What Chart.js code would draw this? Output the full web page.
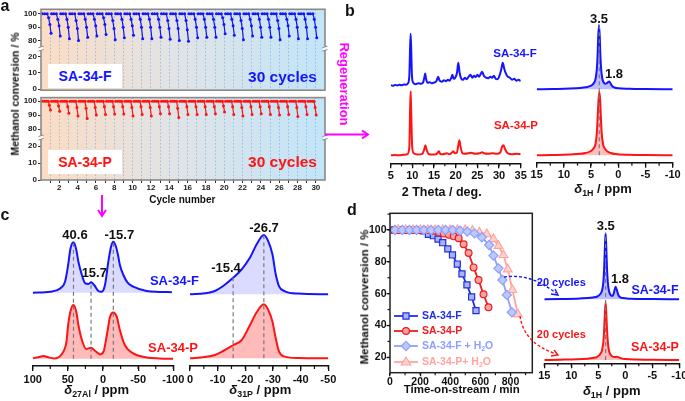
<!DOCTYPE html>
<html>
<head>
<meta charset="utf-8">
<script src="https://cdn.jsdelivr.net/npm/chart.js"></script>
<style>
  body { margin: 0; background: #fff; }
  #wrap { position: relative; width: 685px; height: 401px; overflow: hidden; font-family: 'Liberation Sans', Arial, sans-serif; font-weight: bold; }
  #wrap canvas { position: absolute; }
  .t { position: absolute; white-space: nowrap; transform: translate(-50%, -50%); line-height: 1; }
  .t sub { font-size: 0.68em; vertical-align: -0.25em; }
  svg { position: absolute; left: 0; top: 0; }
</style>
</head>
<body>
<div id="wrap"></div>
<script>
// ---------- data ----------
const cycles = [1,2,3,4,5,6,7,8,9,10,11,12,13,14,15,16,17,18,19,20,21,22,23,24,25,26,27,28,29,30];
const yTicksA = [0, 10, 20, 80, 90, 100];

// SA-34-F, per cycle: two points on the way down and the last point
const fDrop1 = [97,96,96,95,96,96,97,95,96,96,96,96,96,95,95,95,96,96,96,97,96,95,96,96,96,95,96,96,96,96];
const fDrop2 = [92,91,90,89,90,91,92,89,90,91,90,90,90,89,89,88,90,90,90,92,91,89,91,90,90,89,91,90,90,90];
const fEnd = [85.4,83.3,81.4,80,82.4,83.3,84.5,80.5,82,84,81.4,81.4,82.4,81,80,79.5,82,82.4,82.4,85,84,80.5,83.3,82.4,82.4,80.5,83.3,81.4,81.4,82];
// SA-34-P
const pDrop = [97,96.5,96,95.5,95,95.5,96,96,96,95.5,96,95.5,96,96,95,96,96,96,96,96.5,96,95.5,96,96,96,95.5,96,95.5,96,95.5];
const pEnd = [93.6,92.7,91.3,89.4,87.5,90,90.5,90.8,90.8,89.4,90.5,89.4,91,91,88.2,90.5,90.5,90.5,91,92.2,90.5,89.4,90.5,91,90.5,90,90.5,89,90.5,90];

// XRD (2 theta, intensity)
const xrdF = [[5,0.5],[5.5,0],[6,0.8],[6.5,0.3],[7,1],[7.5,0.4],[8,1.2],[8.5,1],[9,2.5],[9.3,10],[9.45,34],[9.6,52],[9.75,34],[9.9,10],[10.2,3],[10.8,1.5],[11.4,2.5],[12,2],[12.5,3.5],[12.8,9],[12.95,12.3],[13.15,7],[13.5,3],[14,3.5],[14.5,2.5],[15,3],[15.6,5],[15.95,9],[16.3,5],[16.8,4],[17.3,5.5],[17.8,4.5],[18.2,6],[18.6,5],[19,8],[19.25,11],[19.5,7],[19.9,8],[20.3,13],[20.6,23],[20.9,13],[21.3,7],[21.7,6],[22.1,8],[22.5,6.5],[23,9],[23.4,11],[23.8,8],[24.2,10],[24.6,8.5],[25,11],[25.4,9],[25.8,12],[26.1,14],[26.5,10],[27,8],[27.5,7.5],[28,9],[28.4,8],[28.8,10],[29.2,7],[29.7,6.5],[30.1,10],[30.5,16],[30.85,23],[31.2,17],[31.6,12],[32,9],[32.5,8],[33,6],[33.5,7],[34,5],[34.5,6],[35,4.5]];
const xrdP = [[5,0],[6,0.3],[7,0],[8,0.5],[8.8,1],[9.3,8],[9.45,40],[9.6,64],[9.75,40],[9.95,9],[10.3,2],[11.2,0.8],[12.3,1.5],[12.75,6],[13,10],[13.25,6],[13.7,1.5],[14.5,0.8],[15.5,1],[15.9,3],[16.15,4],[16.4,1.5],[17,1],[18,2],[18.5,1],[19.2,3],[19.45,4],[19.8,2],[20.3,3],[20.6,10],[20.85,15],[21.1,9],[21.5,2.5],[22,1.5],[23,2],[23.5,2.5],[24.5,1.5],[25.5,2],[26.1,3],[26.5,2],[27.5,1.5],[28.5,2],[29.5,1.5],[30.3,3],[30.75,9],[31.05,10],[31.4,6],[32,2],[33,1],[34,1.5],[35,1]];

// 1H NMR, panel b (ppm, intensity)
const hbF = [[15,0],[12,0.3],[9,0.7],[7,1.3],[6,2],[5.2,3.2],[4.6,5.5],[4.2,10],[3.95,20],[3.8,35],[3.7,52],[3.55,64.3],[3.4,52],[3.3,35],[3.15,20],[2.95,11],[2.7,7],[2.4,5.5],[2.1,6],[1.85,7.5],[1.65,7.7],[1.4,5.5],[1.1,3],[0.7,1.8],[0,1],[-2,0.5],[-5,0.2],[-10,0]];
const hbP = [[15,0],[12,0.3],[9,0.8],[7,1.5],[6,2.3],[5.2,3.8],[4.6,6.5],[4.2,11],[3.95,22],[3.8,38],[3.65,54],[3.48,63.6],[3.32,54],[3.2,38],[3.05,22],[2.8,11],[2.45,6.5],[2,3.8],[1.4,2.3],[0.5,1.2],[-2,0.5],[-5,0.2],[-10,0]];

// 27Al NMR
const alF = [[100,0],[75,1],[61,4.3],[54,11],[49.6,27.7],[46.3,44],[42,50.4],[38.3,44],[35,31],[30,17.7],[25.3,9.3],[20.6,8.7],[17,10.4],[12.6,7.7],[6.5,1.7],[1.9,1],[-2.8,7.7],[-7.6,31],[-11.4,46],[-14.7,51],[-18.5,46],[-21.8,36],[-24,27.7],[-29,17.7],[-35,10],[-43,6],[-62,1.7],[-80,0.8],[-98,0.5]];
const alP = [[100,0.5],[92,1.5],[84.6,2.7],[78,1.5],[70,0.3],[58,5.3],[52,17],[49.6,33.7],[45.8,48.7],[42,53.7],[38,47],[35,33.7],[30,18.7],[24,9.7],[17,11],[11,7.7],[4,4.3],[-0.7,7],[-5.5,23.7],[-10,42],[-14.7,46.3],[-19.5,42],[-24,28.7],[-31,13.7],[-43,5.3],[-62,1.3],[-80,0.3],[-100,0]];

// 31P NMR
const phF = [[0,0],[-5.4,1],[-9,3.3],[-12,8.3],[-15.7,16.7],[-18.7,25],[-21.7,36.7],[-24.1,50],[-26.7,59.3],[-28.3,53],[-29.8,40],[-31,20],[-32.2,8],[-34.3,3],[-39.2,0.7],[-50,0]];
const phP = [[0,0],[-5.4,1.3],[-9,3.3],[-12,7.3],[-15.7,13.3],[-18.7,18.3],[-21.7,33.3],[-24.1,46],[-26.7,54],[-28.3,48.3],[-29.8,36.7],[-31,20],[-32.2,6.7],[-34.3,1.7],[-39.2,0.3],[-50,0]];

// 1H NMR after 20 cycles, panel d
const hdF = [[15,0],[12,0.3],[9,0.6],[7,1.2],[6,1.8],[5.2,2.8],[4.7,4.8],[4.3,9],[4.05,18],[3.9,33],[3.78,52],[3.65,66],[3.52,52],[3.4,33],[3.25,18],[3.05,9],[2.75,4.5],[2.45,3.2],[2.2,5],[2,9],[1.8,12.6],[1.55,9],[1.3,4.5],[1,2.2],[0.5,1.2],[-1,0.6],[-5,0.2],[-10,0]];
const hdP = [[15,0],[12,0.3],[9,0.7],[7,1.3],[6,2],[5.2,3.2],[4.7,5.5],[4.3,10],[4.05,19],[3.9,32],[3.78,47],[3.65,57.3],[3.52,47],[3.4,32],[3.25,19],[3.05,10],[2.75,5.5],[2.4,3.5],[2,3],[1.6,3.2],[1.2,2.6],[0.7,1.6],[0,0.9],[-2,0.4],[-5,0.2],[-10,0]];

// methanol conversion vs time on stream
const timeF = [30,62,94,126,158,190,222,255,288,319,350,384,415,447,478,511,542,571];
const convF = [100,100,100,100,100,99.8,99.5,97.3,96.4,94.3,92,88.1,84.3,78.6,72.4,65.5,57.9,49.3];
const timeP = [27,60,93,126,159,192,225,258,291,324,357,390,423,456,489,522,555,588,621,654];
const convP = [100,100,100,100,100,100,100,100,99.5,98.5,97.8,97,96,94.8,91,85.5,76.5,68.5,59.6,51.4];
const timeFW = [33,81,129,177,225,273,321,369,417,465,513,561,610,658,687,720,747,776,809];
const convFW = [100,100,100,100,100,100,100,100,100,99.5,99,97.9,95.4,90.6,83.9,75.9,68.6,59.2,48.3];
const timePW = [55,104,153,202,251,300,350,399,448,499,548,594,643,687,720,753,782,813,849];
const convPW = [100,100,100,100,100,100,100,100,100,100,99.5,98.5,97.5,94.3,90,84.3,75.3,62.3,47];

// ---------- helpers ----------
Chart.defaults.font.family = "'Liberation Sans', Arial, sans-serif";
Chart.defaults.font.weight = 'bold';
Chart.defaults.color = '#111';

const BLUE = '#1414ff';
const RED = '#ff1414';
const wrap = document.getElementById('wrap');

function place(left, top, w, h) {
  const c = document.createElement('canvas');
  c.width = w; c.height = h;
  c.style.left = left + 'px'; c.style.top = top + 'px';
  wrap.appendChild(c);
  return c;
}

function label(html, x, y, size, color, extra) {
  const d = document.createElement('div');
  d.className = 't';
  d.innerHTML = html;
  d.style.left = x + 'px'; d.style.top = y + 'px';
  d.style.fontSize = size + 'px';
  d.style.color = color || '#111';
  if (extra) Object.assign(d.style, extra);
  wrap.appendChild(d);
}

const minorTicks = {
  id: 'minorTicks',
  afterDraw(chart, args, opts) {
    const ctx = chart.ctx;
    ctx.save();
    ctx.strokeStyle = '#111';
    ctx.lineWidth = 1.2;
    ['x', 'y'].forEach(id => {
      const o = opts[id];
      if (!o) return;
      const s = chart.scales[id];
      for (let v = o.from; v <= o.to + 1e-9; v += o.step) {
        const p = s.getPixelForValue(v);
        ctx.beginPath();
        if (id === 'x') { ctx.moveTo(p, s.top); ctx.lineTo(p, s.top + o.len); }
        else { ctx.moveTo(s.right, p); ctx.lineTo(s.right - o.len, p); }
        ctx.stroke();
      }
    });
    ctx.restore();
  }
};

// broken axis of panel a: 0-20 and 80-100
function brk(v) { return v === null ? null : (v <= 20 ? v : 30 + (v - 80) * 0.82); }

const aBackground = {
  id: 'aBackground',
  beforeDraw(chart) {
    const { ctx, chartArea: a } = chart;
    const g = ctx.createLinearGradient(a.left, 0, a.right, 0);
    g.addColorStop(0, '#fbdcc3');
    g.addColorStop(0.45, '#e2e3e4');
    g.addColorStop(1, '#c2e5f9');
    ctx.fillStyle = g;
    ctx.fillRect(a.left, a.top, a.width, a.height);
  },
  afterDraw(chart) {
    const { ctx, chartArea: a } = chart;
    ctx.save();
    ctx.strokeStyle = '#8a8a8a';
    ctx.lineWidth = 1.6;
    ctx.strokeRect(a.left, a.top, a.width, a.height);
    const yb = chart.scales.y.getPixelForValue(25);
    [a.left, a.right].forEach(x => {
      ctx.fillStyle = '#fff';
      ctx.fillRect(x - 2, yb - 2, 4, 4);
      ctx.strokeStyle = '#777';
      ctx.lineWidth = 0.9;
      ctx.beginPath();
      ctx.moveTo(x - 2.5, yb - 1); ctx.lineTo(x + 2.5, yb - 2.5);
      ctx.moveTo(x - 2.5, yb + 2.5); ctx.lineTo(x + 2.5, yb + 1);
      ctx.stroke();
    });
    ctx.restore();
  }
};

function cyclePoints(mids, midX, ends, plateauX, endX) {
  const pts = [];
  cycles.forEach((c, i) => {
    plateauX.forEach(dx => pts.push({ x: c + dx, y: brk(100) }));
    mids.forEach((m, k) => pts.push({ x: c + midX[k], y: brk(m[i]) }));
    pts.push({ x: c + endX, y: brk(ends[i]) });
    pts.push({ x: c + endX + 0.02, y: null });
  });
  return pts;
}

function cycleChart(cv, pts, color, padTop, yMin, yMax, xH, showX) {
  return new Chart(cv, {
    type: 'line',
    data: { datasets: [{
      data: pts, borderColor: color, backgroundColor: color, borderWidth: 1.2,
      pointRadius: 1.5, pointBorderWidth: 0, spanGaps: false
    }] },
    options: {
      responsive: false, animation: false, events: [],
      layout: { padding: { left: 0, right: 5, top: padTop, bottom: 0 } },
      plugins: { legend: { display: false }, tooltip: { enabled: false } },
      scales: {
        x: {
          type: 'linear', min: 0, max: 31,
          afterBuildTicks: s => { s.ticks = cycles.map(v => ({ value: v })); },
          afterFit: s => { s.height = xH; },
          ticks: { display: showX, callback: v => (v % 2 === 0 ? String(v) : ''), font: { size: 8, weight: 'bold' },
                   padding: 0, maxRotation: 0, autoSkip: false, color: '#222' },
          grid: { drawOnChartArea: true, drawTicks: showX, tickLength: 3, color: 'rgba(80,145,230,0.6)',
                  tickColor: '#333', lineWidth: 0.8, tickWidth: 1 },
          border: { display: false, dash: [1.5, 2] }
        },
        y: {
          min: yMin, max: yMax,
          afterBuildTicks: s => { s.ticks = yTicksA.map(v => ({ value: brk(v) })); },
          afterFit: s => { s.width = 41; },
          ticks: { callback: (v, i) => yTicksA[i], font: { size: 8, weight: 'bold' }, padding: 1, color: '#222' },
          grid: { drawOnChartArea: false, drawTicks: true, tickLength: 3, tickColor: '#333', color: '#333' },
          border: { display: false }
        }
      }
    },
    plugins: [aBackground]
  });
}

function spectrum(box, axis, series, guides) {
  const cv = place(box.left, box.top, box.w, box.h);
  const datasets = series.map(s => ({
    data: s.pts.map(p => ({ x: p[0], y: p[1] + s.base })),
    borderColor: s.color, borderWidth: 2, pointRadius: 0,
    cubicInterpolationMode: 'monotone',
    fill: s.fill ? { value: s.base } : false,
    backgroundColor: s.fill || 'transparent',
    order: 1
  }));
  (guides || []).forEach(g => datasets.push({
    data: [{ x: g.x, y: g.y0 }, { x: g.x, y: g.y1 }],
    borderColor: '#7a7a7a', borderWidth: 1.2, borderDash: [4, 3],
    pointRadius: 0, fill: false, order: 0
  }));
  return new Chart(cv, {
    type: 'line',
    data: { datasets },
    options: {
      responsive: false, animation: false, events: [],
      layout: { padding: { left: box.padL, right: box.padR, top: box.padT, bottom: 0 } },
      plugins: { legend: { display: false }, tooltip: { enabled: false },
                 minorTicks: { x: { from: axis.minorFrom, to: axis.minorTo, step: axis.minorStep, len: 3 } } },
      scales: {
        x: {
          type: 'linear', min: axis.min, max: axis.max, reverse: axis.reverse,
          afterBuildTicks: s => { s.ticks = axis.ticks.map(v => ({ value: v })); },
          afterFit: s => { s.height = box.axisH; },
          ticks: { color: '#111', font: { size: 11, weight: 'bold' }, padding: box.labelPad, maxRotation: 0, autoSkip: false },
          grid: { drawOnChartArea: false, drawTicks: true, tickLength: 5, color: '#111', lineWidth: 1.3 },
          border: { display: true, color: '#111', width: 1.6 }
        },
        y: { display: false, min: 0, max: box.yMax }
      }
    },
    plugins: [minorTicks]
  });
}

// ---------- panel a ----------
const ptsF = cyclePoints([fDrop1, fDrop2], [-0.17, -0.03], fEnd, [-0.85, -0.6, -0.32], 0.1);
const ptsP = cyclePoints([pDrop], [-0.08], pEnd, [-0.85, -0.62, -0.4, -0.2], 0.04);
cycleChart(place(0, 0, 330, 96), ptsF, BLUE, 9.3, -0.6, 49.2, 2, false);
cycleChart(place(0, 90, 330, 110), ptsP, RED, 7.6, 0, 48.5, 20, true);

// ---------- panel b ----------
spectrum({ left: 370, top: 20, w: 165, h: 180, padL: 20.7, padR: 14.3, padT: 12, axisH: 36.7, yMax: 131.3, labelPad: 1 },
  { min: 5, max: 35, reverse: false, ticks: [5, 10, 15, 20, 25, 30, 35], minorFrom: 5, minorTo: 35, minorStep: 2.5 },
  [{ pts: xrdF, base: 77.6, color: BLUE }, { pts: xrdP, base: 8, color: RED }]);

spectrum({ left: 525, top: 20, w: 170, h: 180, padL: 11.7, padR: 22.3, padT: 4, axisH: 37.3, yMax: 138.7, labelPad: 1 },
  { min: -10, max: 15, reverse: true, ticks: [15, 10, 5, 0, -5, -10], minorFrom: -10, minorTo: 15, minorStep: 2.5 },
  [{ pts: hbF, base: 73.4, color: BLUE, fill: 'rgba(40,40,255,0.3)' },
   { pts: hbP, base: 7.4, color: RED, fill: 'rgba(255,40,40,0.3)' }],
  [{ x: 3.5, y0: 7.4, y1: 137.7 }]);

// ---------- panel c ----------
spectrum({ left: 0, top: 225, w: 190, h: 176, padL: 32.7, padR: 16.7, padT: 10, axisH: 35, yMax: 131, labelPad: 2.5 },
  { min: -100, max: 100, reverse: true, ticks: [100, 50, 0, -50, -100], minorFrom: -100, minorTo: 100, minorStep: 25 },
  [{ pts: alF, base: 73.3, color: BLUE, fill: 'rgba(40,40,255,0.17)' },
   { pts: alP, base: 7.3, color: RED, fill: 'rgba(255,40,40,0.32)' }],
  [{ x: 42, y0: 7.3, y1: 123.7 }, { x: 17, y0: 7.3, y1: 83.7 }, { x: -14.7, y0: 7.3, y1: 124.3 }]);

spectrum({ left: 170, top: 225, w: 170, h: 176, padL: 20, padR: 11.7, padT: 5, axisH: 35, yMax: 136, labelPad: 2.5 },
  { min: -50, max: 0, reverse: true, ticks: [0, -10, -20, -30, -40, -50], minorFrom: -50, minorTo: 0, minorStep: 5 },
  [{ pts: phF, base: 71.7, color: BLUE, fill: 'rgba(40,40,255,0.17)' },
   { pts: phP, base: 7.7, color: RED, fill: 'rgba(255,40,40,0.32)' }],
  [{ x: -15.6, y0: 7.7, y1: 88.4 }, { x: -26.7, y0: 7.7, y1: 131 }]);

// ---------- panel d ----------
spectrum({ left: 530, top: 215, w: 170, h: 186, padL: 14.3, padR: 20.7, padT: 8, axisH: 37.7, yMax: 140.3, labelPad: 1 },
  { min: -10, max: 15, reverse: true, ticks: [15, 10, 5, 0, -5, -10], minorFrom: -10, minorTo: 15, minorStep: 2.5 },
  [{ pts: hdF, base: 64, color: BLUE, fill: 'rgba(40,40,255,0.3)' },
   { pts: hdP, base: 3.3, color: RED, fill: 'rgba(255,40,40,0.3)' }],
  [{ x: 3.65, y0: 3.3, y1: 130 }]);

function marker(ctx, style, x, y, r) {
  ctx.beginPath();
  if (style === 'rect') { const s = r * Math.SQRT1_2; ctx.rect(x - s, y - s, 2 * s, 2 * s); }
  else if (style === 'circle') ctx.arc(x, y, r, 0, Math.PI * 2);
  else if (style === 'rectRot') { ctx.moveTo(x, y - r); ctx.lineTo(x + r, y); ctx.lineTo(x, y + r); ctx.lineTo(x - r, y); ctx.closePath(); }
  else { ctx.moveTo(x, y - r); ctx.lineTo(x + r * 0.95, y + r * 0.6); ctx.lineTo(x - r * 0.95, y + r * 0.6); ctx.closePath(); }
  ctx.fill();
  ctx.stroke();
}

const dSeries = [
  { label: ['SA-34-F + H', '2', 'O'], t: timeFW, v: convFW, color: '#8ea0ff', fill: '#bcc8ff', style: 'rectRot', r: 4.6 },
  { label: ['SA-34-P+ H', '2', 'O'], t: timePW, v: convPW, color: '#ffa49e', fill: '#ffd2ce', style: 'triangle', r: 5 },
  { label: ['SA-34-P'], t: timeP, v: convP, color: '#f01c1c', fill: '#f7a3a3', style: 'circle', r: 3.4 },
  { label: ['SA-34-F'], t: timeF, v: convF, color: '#1f2fe0', fill: '#aab4f5', style: 'rect', r: 4.3 }
];
const legendY = [141, 157, 126, 111];

const dLegend = {
  id: 'dLegend',
  afterDraw(chart) {
    const ctx = chart.ctx;
    ctx.save();
    dSeries.forEach((s, i) => {
      const y = legendY[i];
      ctx.strokeStyle = s.color; ctx.fillStyle = s.fill; ctx.lineWidth = 1.8;
      ctx.beginPath(); ctx.moveTo(49, y); ctx.lineTo(73, y); ctx.stroke();
      ctx.lineWidth = 1.2;
      marker(ctx, s.style, 61, y, s.r);
      ctx.fillStyle = s.color;
      ctx.textBaseline = 'middle';
      let x = 77;
      s.label.forEach((part, k) => {
        const sub = k === 1;
        ctx.font = 'bold ' + (sub ? 7 : 10.5) + "px 'Liberation Sans', Arial, sans-serif";
        ctx.fillText(part, x, sub ? y + 3 : y);
        x += ctx.measureText(part).width;
      });
    });
    ctx.restore();
  }
};
const dFrame = {
  id: 'dFrame',
  afterDraw(chart) {
    const { ctx, chartArea: a } = chart;
    ctx.save(); ctx.strokeStyle = '#222'; ctx.lineWidth = 1.5;
    ctx.strokeRect(a.left, a.top, a.width, a.height);
    ctx.restore();
  }
};

new Chart(place(345, 205, 195, 196), {
  type: 'line',
  data: { datasets: dSeries.map(s => ({
    data: s.t.map((t, i) => ({ x: t, y: s.v[i] })),
    borderColor: s.color, borderWidth: 1.8,
    pointStyle: s.style, pointRadius: s.r, pointBackgroundColor: s.fill,
    pointBorderColor: s.color, pointBorderWidth: 1.2
  })) },
  options: {
    responsive: false, animation: false, events: [],
    layout: { padding: { left: 0, right: 7.7, top: 8.3, bottom: 0 } },
    plugins: { legend: { display: false }, tooltip: { enabled: false },
               minorTicks: { x: { from: 0, to: 900, step: 100, len: 2.5 }, y: { from: 20, to: 110, step: 10, len: 2.5 } } },
    scales: {
      x: {
        type: 'linear', min: 0, max: 945,
        afterBuildTicks: s => { s.ticks = [0, 200, 400, 600, 800].map(v => ({ value: v })); },
        afterFit: s => { s.height = 28.3; },
        ticks: { font: { size: 10.5, weight: 'bold' }, padding: 0, maxRotation: 0, autoSkip: false, color: '#111' },
        grid: { drawOnChartArea: false, drawTicks: true, tickLength: 3.5, color: '#111', lineWidth: 1.2 },
        border: { display: false }
      },
      y: {
        min: 10.3, max: 110.5,
        afterBuildTicks: s => { s.ticks = [20, 40, 60, 80, 100].map(v => ({ value: v })); },
        afterFit: s => { s.width = 45; },
        ticks: { font: { size: 10.5, weight: 'bold' }, padding: 0, color: '#111' },
        grid: { drawOnChartArea: false, drawTicks: true, tickLength: 3.5, color: '#111', lineWidth: 1.2 },
        border: { display: false }
      }
    }
  },
  plugins: [minorTicks, dFrame, dLegend]
});

// ---------- texts ----------
label('a', 5, 6, 16);
label('b', 350, 11, 16);
label('c', 5, 215, 16);
label('d', 352, 210, 16);

label('Methanol conversion / %', 15, 93.5, 10.5, '#111', { transform: 'translate(-50%,-50%) rotate(-90deg)' });
label('Cycle number', 182.3, 200, 10);
const box = { background: '#fff', width: '74px', height: '24px', lineHeight: '24px', textAlign: 'center' };
label('SA-34-F', 85, 76, 14, BLUE, box);
label('30 cycles', 282.5, 76.5, 15.5, BLUE);
label('SA-34-P', 85, 162, 14, RED, box);
label('30 cycles', 282.5, 162, 15.5, RED);

label('Regeneration', 344, 84, 13, '#ff00ff', { transform: 'translate(-50%,-50%) rotate(90deg)' });
label('SA-34-F', 515, 54, 11.5, BLUE);
label('SA-34-P', 516, 126, 11.5, RED);
label('3.5', 599, 17.5, 13);
label('1.8', 614, 72.5, 13);
label('2 Theta / deg.', 441.7, 191.7, 12.5);
label('<i>δ</i><sub>1H</sub> / ppm', 603, 190, 13);

label('40.6', 75, 234.3, 13);
label('15.7', 94.3, 271.7, 13);
label('-15.7', 119.3, 234.3, 13);
label('-26.7', 264, 226.5, 13);
label('-15.4', 226, 266.7, 13);
label('SA-34-F', 174.5, 280, 13, BLUE);
label('SA-34-P', 173, 347.3, 13, RED);
label('<i>δ</i><sub>27Al</sub> / ppm', 96.7, 390.7, 13);
label('<i>δ</i><sub>31P</sub> / ppm', 260.3, 390.7, 13);

label('Methanol conversion / %', 365, 297, 11.5, '#111', { transform: 'translate(-50%,-50%) rotate(-90deg)' });
label('Time-on-stream / min', 461.7, 390, 11.5);
label('3.5', 605.7, 225, 13);
label('1.8', 620, 278.3, 13);
label('SA-34-F', 655, 290, 12.5, BLUE);
label('SA-34-P', 655, 346.7, 12.5, RED);
label('20 cycles', 561.3, 282.3, 11, BLUE);
label('20 cycles', 561.3, 334, 11, RED);
label('<i>δ</i><sub>1H</sub> / ppm', 611.7, 391.7, 13);

// ---------- arrows ----------
const svgNS = 'http://www.w3.org/2000/svg';
const svg = document.createElementNS(svgNS, 'svg');
svg.setAttribute('width', 685); svg.setAttribute('height', 401);
svg.innerHTML = `
  <g fill="none" stroke="#ff00ff" stroke-width="2">
    <line x1="325" y1="134.5" x2="367" y2="134.5"/>
    <polyline points="362,130.5 368,134.5 362,138.5"/>
    <line x1="102" y1="195" x2="102" y2="215"/>
    <polyline points="98,210 102,216 106,210"/>
  </g>
  <g fill="none" stroke-width="1.4" stroke-dasharray="3,2">
    <path d="M504,277 C526,274 541,282 556,293" stroke="${BLUE}"/>
    <path d="M520,316 C523,336 536,347 556,354" stroke="${RED}"/>
  </g>
  <g fill="none" stroke-width="1.4">
    <polyline points="551,294 558,295 555,289" stroke="${BLUE}"/>
    <polyline points="551,356 558,355 554,350" stroke="${RED}"/>
  </g>`;
wrap.appendChild(svg);
</script>
</body>
</html>
